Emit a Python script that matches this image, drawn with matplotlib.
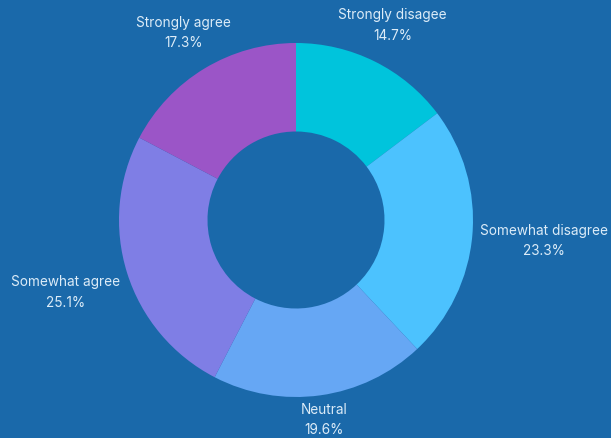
import numpy as np
import matplotlib
matplotlib.use("Agg")
import matplotlib.pyplot as plt

labels = ["Strongly disagee", "Somewhat disagree", "Neutral", "Somewhat agree", "Strongly agree"]
shares = [14.7, 23.3, 19.6, 25.1, 17.3]
colors = ["#00c4dc", "#4cc2fe", "#66a7f4", "#7f7ee5", "#9b55c7"]

BG = "#1a69aa"
TEXT = "#dcecf8"

W, H, DPI = 611, 438, 100
R_PX = 177           # outer radius in pixels
CX, CY = 296, 220    # centre in pixels (from top-left)

fig = plt.figure(figsize=(W / DPI, H / DPI), dpi=DPI, facecolor=BG)
ax = fig.add_axes([0, 0, 1, 1])
ax.set_facecolor(BG)
ax.axis("off")

wedges, _ = ax.pie(shares, colors=colors, startangle=90, counterclock=False,
                   radius=1.0, wedgeprops=dict(width=0.5, linewidth=0))

ax.set_xlim(-CX / R_PX, (W - CX) / R_PX)
ax.set_ylim(-(H - CY) / R_PX, CY / R_PX)

# outside labels: push each box out until its nearest edge clears the ring
fig.canvas.draw()
renderer = fig.canvas.get_renderer()
for w, lab, val in zip(wedges, labels, shares):
    ang = np.deg2rad((w.theta1 + w.theta2) / 2)
    c, s = np.cos(ang), np.sin(ang)
    t = ax.text(0, 0, f"{lab}\n{val:.1f}%", ha="center", va="center",
                fontsize=9.8, color=TEXT, family=["Inter", "DejaVu Sans"],
                linespacing=1.55)
    bb = t.get_window_extent(renderer)
    hw = bb.width / 2 / R_PX
    hh = bb.height / 2 / R_PX
    d = min(hw / abs(c) if abs(c) > 1e-6 else np.inf,
            hh / abs(s) if abs(s) > 1e-6 else np.inf)
    gap = 1.12 if s > 0.5 else 1.045   # labels over the top sit a bit higher
    r = gap + d
    t.set_position((r * c, r * s))

fig.savefig("out.png", dpi=DPI, facecolor=BG)
